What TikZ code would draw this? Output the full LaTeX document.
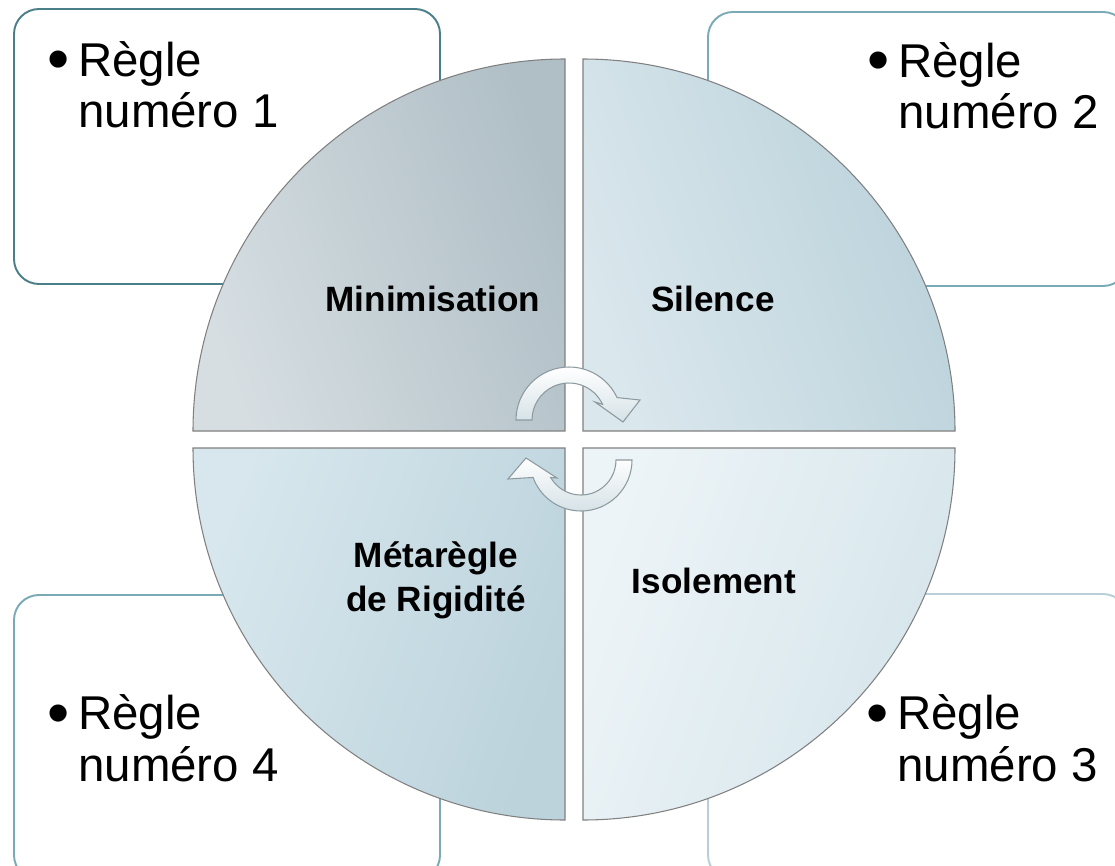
\documentclass[tikz,border=0pt]{standalone}
\usepackage{fontspec}
\setmainfont{Liberation Sans}
\usetikzlibrary{positioning, calc}
\definecolor{boxdark}{RGB}{74, 127, 138}
\definecolor{boxmid}{RGB}{122, 170, 182}
\definecolor{boxlight}{RGB}{183, 207, 214}
\definecolor{quadline}{RGB}{128, 128, 128}
\definecolor{arrowline}{RGB}{140, 154, 159}
\definecolor{arrowfill}{RGB}{214, 226, 231}

\begin{document}
\begin{tikzpicture}[x=0.02cm, y=-0.02cm,
    % Box Styles
    rulebox/.style={rounded corners=0.5cm, line width=1.1pt, fill=white},
    ruletext/.style={font=\fontsize{27}{29.5}\selectfont, align=left, inner sep=0pt},
    bulletmark/.style={font=\fontsize{36}{36}\selectfont, inner sep=0pt},
    % Quadrant Styles
    quadrant/.style={draw=quadline, line width=0.6pt},
    quadlabel/.style={font=\fontsize{20}{25}\selectfont\bfseries, align=center, inner sep=0pt},
    % Arrow Styles
    cyclearrow/.style={draw=arrowline, line width=0.6pt, top color=white, bottom color=arrowfill}
]
\useasboundingbox (0,0) rectangle (1115,865);

% Corner boxes
\draw[rulebox, draw=boxdark] (14,9) rectangle (440,284);
\draw[rulebox, draw=boxmid] (708,12) rectangle (1128,286);
\draw[rulebox, draw=boxmid] (14,595) rectangle (440,880);
\draw[rulebox, draw=boxlight] (708,594) rectangle (1128,880);

% Helper macro for the rule texts
% #1: Node Name, #2: Position (last baseline), #3: Number
\newcommand{\addRule}[3]{
    \node[ruletext, anchor=base west] (#1) at #2 {Règle\\numéro #3};
    \node[bulletmark, anchor=base east] (b-#1) at ($(#1.base west) + (-8, -47)$) {•};
}
\addRule{rule1}{(78,128)}{1}
\addRule{rule2}{(898,129)}{2}
\addRule{rule3}{(897,781)}{3}
\addRule{rule4}{(78,781)}{4}

% Quadrants
\path[quadrant, left color={rgb,255:red,214;green,222;blue,226}, right color={rgb,255:red,176;green,191;blue,198}, shading angle=110]
    (565,431) -- (193,431) arc[start angle=180, end angle=270, radius=372] -- cycle;
\path[quadrant, left color={rgb,255:red,218;green,231;blue,237}, right color={rgb,255:red,186;green,209;blue,218}, shading angle=110]
    (583,431) -- (583,59) arc[start angle=270, end angle=360, radius=372] -- cycle;
\path[quadrant, left color={rgb,255:red,237;green,244;blue,247}, right color={rgb,255:red,213;green,229;blue,235}, shading angle=70]
    (583,448) -- (955,448) arc[start angle=0, end angle=90, radius=372] -- cycle;
\path[quadrant, left color={rgb,255:red,216;green,231;blue,238}, right color={rgb,255:red,188;green,211;blue,220}, shading angle=70]
    (565,448) -- (565,820) arc[start angle=90, end angle=180, radius=372] -- cycle;

% Quadrant labels
\node[quadlabel, anchor=base] (min) at (433,311) {Minimisation};
\node[quadlabel, anchor=base] (sil) at (713,311) {Silence};
\node[quadlabel, anchor=base] (iso) at (714,593) {Isolement};
\node[quadlabel, anchor=base] (meta) at (436,611) {Métarègle\\de Rigidité};

% Circular arrows
\coordinate (topc) at (569,420);
\coordinate (botc) at (581,460);
\path[cyclearrow] ($(topc)+(180:53)$) arc[start angle=180, end angle=335, radius=53]
    -- (640,400) -- (623,422) -- (595,402) -- ($(topc)+(335:37)$)
    arc[start angle=335, end angle=180, radius=37] -- cycle;
\path[cyclearrow] ($(botc)+(0:51)$) arc[start angle=0, end angle=160, radius=51]
    -- (508,479) -- (526,458) -- (557,478) -- ($(botc)+(150:35)$)
    arc[start angle=150, end angle=0, radius=35] -- cycle;

\end{tikzpicture}
\end{document}
